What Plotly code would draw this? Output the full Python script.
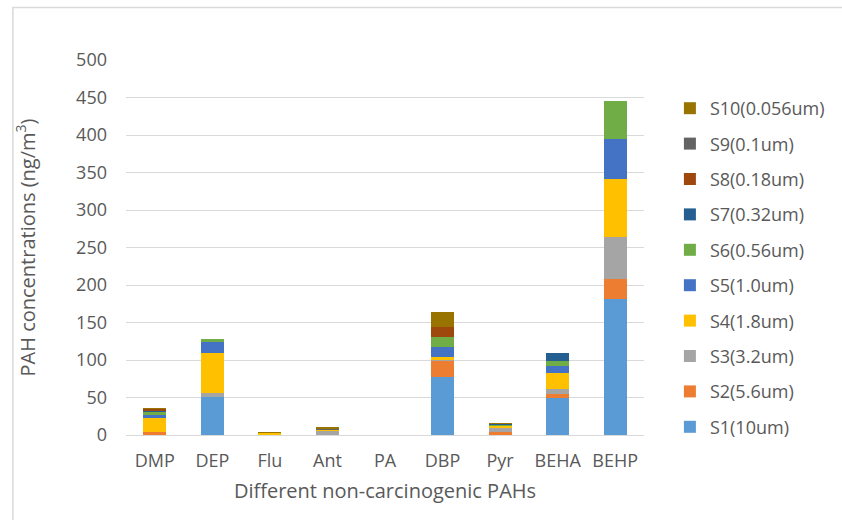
import plotly.graph_objects as go

categories = ["DMP", "DEP", "Flu", "Ant", "PA", "DBP", "Pyr", "BEHA", "BEHP"]
series_names = ["S1(10um)", "S2(5.6um)", "S3(3.2um)", "S4(1.8um)", "S5(1.0um)",
                "S6(0.56um)", "S7(0.32um)", "S8(0.18um)", "S9(0.1um)", "S10(0.056um)"]
colors = ["#5B9BD5", "#ED7D31", "#A5A5A5", "#FFC000", "#4472C4",
          "#70AD47", "#255E91", "#9E480E", "#636363", "#997300"]

#        DMP   DEP   Flu  Ant  PA   DBP   Pyr  BEHA  BEHP
S1  = [0.0,  51.0, 0.0, 0.0, 0.0, 77.0, 0.0, 49.0, 181.0]
S2  = [4.0,  0.0,  0.3, 0.5, 0.0, 22.6, 4.4, 5.2,  27.0]
S3  = [0.5,  4.6,  0.0, 6.0, 0.0, 0.5,  6.2, 6.8,  56.0]
S4  = [18.7, 54.2, 2.5, 0.5, 0.0, 3.4,  1.8, 21.7, 78.0]
S5  = [3.0,  14.6, 0.0, 0.0, 0.0, 13.4, 0.0, 9.7,  53.0]
S6  = [5.3,  3.2,  0.0, 0.0, 0.0, 13.4, 1.3, 6.7,  50.0]
S7  = [1.0,  0.0,  0.0, 0.0, 0.0, 0.0,  1.8, 9.9,  0.0]
S8  = [2.5,  0.0,  0.0, 0.0, 0.0, 14.0, 0.0, 0.0,  0.0]
S9  = [0.0,  0.0,  0.0, 1.5, 0.0, 0.0,  0.0, 0.0,  0.0]
S10 = [1.0,  0.0,  0.8, 1.5, 0.0, 20.0, 0.5, 0.0,  0.0]

series_values = [S1, S2, S3, S4, S5, S6, S7, S8, S9, S10]

y_ticks = [0, 50, 100, 150, 200, 250, 300, 350, 400, 450, 500]

FONT = "Open Sans"
TXT = "#595959"

fig = go.Figure()
n = len(series_names)
for i, (name, vals, col) in enumerate(zip(series_names, series_values, colors)):
    fig.add_trace(go.Bar(name=name, x=categories, y=vals, marker_color=col,
                         marker_line_width=0, legendgroup=name,
                         legendrank=100 + (n - i)))

# chart-area frame (left and top edges visible in the reference)
fx0 = (12 - 126) / 522
fx1 = (900 - 126) / 522
fy_top = (435 - 7.5) / 375
fy_bot = (435 - 600) / 375

fig.update_layout(
    barmode="stack",
    bargap=0.6,
    width=842, height=520,
    margin=dict(l=126, r=194, t=60, b=85),
    paper_bgcolor="white", plot_bgcolor="white",
    font=dict(family=FONT, color=TXT, size=18),
    showlegend=True,
    legend=dict(x=1.05, y=0.92, xanchor="left", yanchor="top",
                traceorder="grouped", tracegroupgap=9,
                font=dict(size=18, color=TXT, family=FONT)),
    xaxis=dict(showgrid=False, showline=False, ticks="", automargin=False,
               ticklabelstandoff=13,
               tickfont=dict(size=18, color=TXT),
               title=dict(text="Different non-carcinogenic PAHs", standoff=12,
                          font=dict(size=20, color=TXT))),
    yaxis=dict(range=[0, 500], tickvals=y_ticks, showgrid=True, gridcolor="#D9D9D9",
               gridwidth=1, zeroline=True, zerolinecolor="#D9D9D9", zerolinewidth=1,
               ticks="", ticklabelstandoff=18, tickfont=dict(size=18, color=TXT),
               automargin=False,
               title=dict(text="PAH concentrations (ng/m<sup>3</sup>)", standoff=35,
                          font=dict(size=20, color=TXT))),
    shapes=[dict(type="path", xref="paper", yref="paper",
                 path=f"M {fx0},{fy_bot} L {fx0},{fy_top} L {fx1},{fy_top}",
                 line=dict(color="#D9D9D9", width=1.5), layer="below")],
)

fig.write_html("out.html", config={"displayModeBar": False},
               post_script="document.body.style.margin='0';")
